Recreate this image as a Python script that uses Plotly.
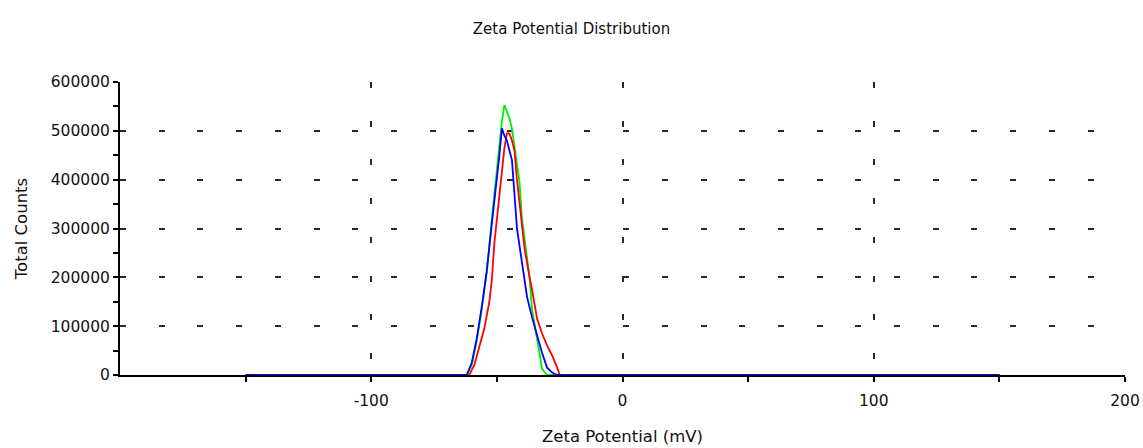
import plotly.graph_objects as go

# Zeta potential (mV) and total counts for three repeat runs
run1_mv = [-150, -62, -60, -58, -56, -54, -52, -50, -48, -47, -46, -45, -44, -43, -42, -41, -40,
           -38, -37, -36, -34, -32, -30, 150]
run1_counts = [0, 0, 20000, 70000, 135000, 210000, 320000, 420000, 520000, 553000, 540000, 525000,
               505000, 470000, 440000, 395000, 320000, 245000, 200000, 135000, 72000, 12000, 0, 0]

run2_mv = [-150, -61, -59, -57, -55, -53, -52, -51, -50, -49, -48, -47, -46, -45, -44, -43, -42,
           -41, -40, -39, -37, -36, -34, -32, -30, -28, -26, -25, 150]
run2_counts = [0, 0, 20000, 55000, 95000, 150000, 195000, 270000, 320000, 380000, 430000, 465000,
               495000, 495000, 480000, 460000, 400000, 350000, 305000, 260000, 200000, 175000,
               115000, 85000, 60000, 40000, 15000, 0, 0]

run3_mv = [-150, -62, -60, -58, -56, -54, -52, -50, -49, -48, -47, -46, -44, -42, -40, -38, -36,
           -34, -32, -30, -28, -26, 150]
run3_counts = [0, 0, 25000, 75000, 140000, 215000, 310000, 400000, 450000, 505000, 490000, 480000,
               440000, 300000, 230000, 160000, 118000, 80000, 45000, 15000, 5000, 0, 0]

series = [
    ("Run 1", run1_mv, run1_counts, "#00ee00"),
    ("Run 2", run2_mv, run2_counts, "#ff0000"),
    ("Run 3", run3_mv, run3_counts, "#0000ff"),
]

x_range = [-200, 200]
y_range = [0, 600000]
x_major = [-100, 0, 100, 200]
x_labels = ["-100", "0", "100", "200"]
x_minor = [-150, -50, 50, 150]
y_major = [0, 100000, 200000, 300000, 400000, 500000, 600000]
y_labels = ["0", "100000", "200000", "300000", "400000", "500000", "600000"]
y_minor = [50000, 150000, 250000, 350000, 450000, 550000]

FONT = "DejaVu Sans"
INK = "#111111"

fig = go.Figure()
for name, xs, ys, color in series:
    fig.add_trace(go.Scatter(x=xs, y=ys, mode="lines", name=name,
                             line=dict(color=color, width=1.8)))

grid = dict(showgrid=True, gridcolor="#2a2a2a", gridwidth=2, griddash="6px,32.7px")
tick = dict(ticklen=5, tickwidth=2, tickcolor="black")

fig.update_layout(
    width=1143, height=448,
    margin=dict(l=120, r=18, t=82, b=73),
    paper_bgcolor="white", plot_bgcolor="white",
    showlegend=False,
    font=dict(family=FONT, color=INK),
    title=dict(text="Zeta Potential Distribution", x=0.5, xref="container", xanchor="center",
               y=1 - 29 / 448, yref="container", yanchor="middle",
               font=dict(size=15, family=FONT, color=INK)),
    xaxis=dict(range=x_range, tickmode="array", tickvals=x_major, ticktext=x_labels,
               ticks="outside", ticklabelstandoff=5, **tick,
               minor=dict(tickmode="array", tickvals=x_minor, ticks="outside",
                          showgrid=False, **tick),
               showline=True, linecolor="black", linewidth=2, zeroline=False,
               layer="below traces", automargin=False,
               tickfont=dict(size=15.5),
               title=dict(text="Zeta Potential (mV)", font=dict(size=16.5), standoff=22),
               **grid),
    yaxis=dict(range=y_range, tickmode="array", tickvals=y_major, ticktext=y_labels,
               ticks="outside", ticklabelstandoff=0, **tick,
               minor=dict(tickmode="array", tickvals=y_minor, ticks="outside",
                          showgrid=False, **tick),
               showline=True, linecolor="black", linewidth=2, zeroline=False,
               layer="below traces", automargin=False,
               tickfont=dict(size=15.5),
               title=dict(text="Total Counts", font=dict(size=16.5), standoff=19),
               **grid),
    # inner halves of the axis ticks, so that they cross the axis lines
    xaxis2=dict(range=x_range, overlaying="x", anchor="y", side="bottom",
                tickmode="array", tickvals=x_major + x_minor, ticks="inside", **tick,
                showticklabels=False, showgrid=False, zeroline=False, showline=False),
    yaxis2=dict(range=y_range, overlaying="y", anchor="x", side="left",
                tickmode="array", tickvals=y_major + y_minor, ticks="inside", **tick,
                showticklabels=False, showgrid=False, zeroline=False, showline=False),
)

fig.write_html("out.html")
